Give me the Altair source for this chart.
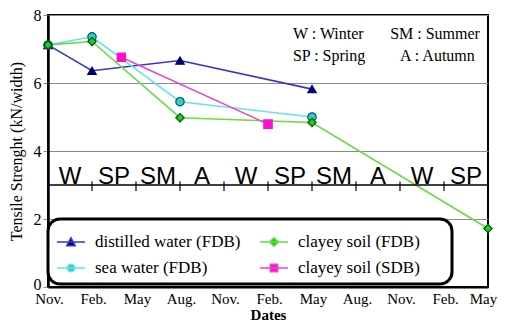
import altair as alt
import pandas as pd

# ---- data (months counted from the first November; 3 = Feb., 6 = May, ...) ----
series_names = ["distilled water (FDB)", "sea water (FDB)", "clayey soil (FDB)", "clayey soil (SDB)"]

distilled_x = [0, 3, 9, 18]
distilled_y = [7.12, 6.36, 6.66, 5.82]
sea_x = [0, 3, 9, 18]
sea_y = [7.12, 7.36, 5.45, 5.0]
clayey_fdb_x = [0, 3, 9, 18, 30]
clayey_fdb_y = [7.12, 7.22, 4.98, 4.84, 1.72]
clayey_sdb_x = [5, 15]
clayey_sdb_y = [6.76, 4.79]

x_tick_values = [0, 3, 6, 9, 12, 15, 18, 21, 24, 27, 30]
x_tick_labels = ["Nov.", "Feb.", "May", "Aug.", "Nov.", "Feb.", "May", "Aug.", "Nov.", "Feb.", "May"]
y_tick_values = [0, 2, 4, 6, 8]

season_labels = ["W", "SP", "SM", "A", "W", "SP", "SM", "A", "W", "SP"]
season_band_level = 3

key_texts_left = ["W : Winter", "SP : Spring"]
key_texts_right = ["SM : Summer", "A : Autumn"]
key_levels = [7.45, 6.8]

# ---- tables ----
rows = []
for name, xs, ys in [
    (series_names[0], distilled_x, distilled_y),
    (series_names[1], sea_x, sea_y),
    (series_names[2], clayey_fdb_x, clayey_fdb_y),
    (series_names[3], clayey_sdb_x, clayey_sdb_y),
]:
    for m, v in zip(xs, ys):
        rows.append({"series": name, "m": m, "v": v})
df = pd.DataFrame(rows)

season_df = pd.DataFrame({
    "label": season_labels,
    "m": [x_tick_values[i] + 1.5 for i in range(len(season_labels))],
    "v": [season_band_level] * len(season_labels),
})
tick_df = pd.DataFrame({
    "m": x_tick_values[1:-1],
    "v": [season_band_level + 0.1] * (len(x_tick_values) - 2),
    "v2": [season_band_level - 0.18] * (len(x_tick_values) - 2),
})
band_df = pd.DataFrame({"v": [season_band_level]})
key_left_df = pd.DataFrame({"t": key_texts_left, "m": [16.7] * 2, "v": key_levels})
key_right_df = pd.DataFrame({"t": key_texts_right, "m": [29.45, 29.1], "v": key_levels})

# ---- styling ----
line_colors = ["#3535cc", "#66e4e4", "#66dd44", "#ee44cc"]
fill_colors = ["#000090", "#33cccc", "#22cc22", "#ff11cc"]
outline_colors = ["#000060", "#005c5c", "#005a00", "#ff11cc"]
shapes = ["triangle-up", "circle", "diamond", "square"]
legend_paths = [
    "M-1,0L1,0M-0.3,0.26L0,-0.3L0.3,0.26Z",
    "M-1,0L1,0M-0.27,0A0.27,0.27 0 1,0 0.27,0A0.27,0.27 0 1,0 -0.27,0Z",
    "M-1,0L1,0M-0.32,0L0,-0.3L0.32,0L0,0.3Z",
    "M-1,0L1,0M-0.26,-0.26L0.26,-0.26L0.26,0.26L-0.26,0.26Z",
]

SERIF = "Liberation Serif"
SANS = "Liberation Sans"

x_scale = alt.Scale(domain=[0, 30], nice=False, zero=False)
y_scale = alt.Scale(domain=[0, 8], nice=False)

label_expr = "[" + ",".join("'" + s + "'" for s in x_tick_labels) + "][round(datum.value/3)]"

x_axis = alt.Axis(values=x_tick_values, labelExpr=label_expr, grid=False, ticks=False,
                  labelFlush=False,
                  labelOffset={"condition": {"test": "datum.value >= 30", "value": -5}, "value": 1},
                  title="Dates", titleFont=SERIF, titleFontSize=15, titleFontWeight="bold",
                  titleColor="black",
                  labelFont=SERIF, labelFontSize=15, labelColor="black", labelPadding=4,
                  titlePadding=1, domainColor="black", domainWidth=2)
y_axis = alt.Axis(values=y_tick_values, grid=True, gridColor="#8a8a8a", gridWidth=1.2,
                  ticks=True, tickSize=5, tickColor="#8a8a8a", labelFlush=False,
                  labelOffset={"condition": {"test": "datum.value <= 0", "value": -3}, "value": 0},
                  title="Tensile Strenght (kN/width)", titleFont=SERIF, titleFontSize=16,
                  titleFontWeight="normal", titleColor="black", titlePadding=9,
                  labelFont=SERIF, labelFontSize=16, labelColor="black", labelPadding=2,
                  domainColor="black", domainWidth=2.5)


def X():
    return alt.X("m:Q", scale=x_scale, axis=x_axis)


def Y():
    return alt.Y("v:Q", scale=y_scale, axis=y_axis)


base = alt.Chart(df)

lines = base.mark_line(strokeWidth=1.6).encode(
    x=X(), y=Y(),
    color=alt.Color("series:N", scale=alt.Scale(domain=series_names, range=line_colors), legend=None),
)

points = base.mark_point(filled=True, size=70, strokeWidth=1.2, opacity=1).encode(
    x=X(), y=Y(),
    color=alt.Color("series:N", scale=alt.Scale(domain=series_names, range=fill_colors), legend=None),
    stroke=alt.Stroke("series:N", scale=alt.Scale(domain=series_names, range=outline_colors), legend=None),
    shape=alt.Shape("series:N", scale=alt.Scale(domain=series_names, range=shapes), legend=None),
)

leg = alt.Legend(title="\u00a0", titleOrient="right", titlePadding=24, titleFontSize=8,
                 orient="none", legendX=0, legendY=204, columns=2,
                 symbolSize=784, symbolStrokeWidth=1.5, symbolOpacity=1,
                 labelFont=SERIF, labelFontSize=17, labelColor="black", labelOffset=9,
                 labelLimit=300, padding=8, columnPadding=16, rowPadding=3, gridAlign="all",
                 fillColor="white", strokeColor="black", cornerRadius=12)

legend_layer = base.mark_point(filled=True, opacity=0).encode(
    x=X(), y=Y(),
    color=alt.Color("series:N", scale=alt.Scale(domain=series_names, range=fill_colors), legend=leg),
    stroke=alt.Stroke("series:N", scale=alt.Scale(domain=series_names, range=line_colors), legend=leg),
    shape=alt.Shape("series:N", scale=alt.Scale(domain=series_names, range=legend_paths), legend=leg),
)

band = alt.Chart(band_df).mark_rule(color="black", strokeWidth=1.5).encode(y=Y())
band_ticks = alt.Chart(tick_df).mark_rule(color="black", strokeWidth=1.2).encode(
    x=X(), y=Y(), y2="v2:Q",
)
seasons = alt.Chart(season_df).mark_text(font=SANS, fontSize=24, baseline="alphabetic",
                                         align="center", dy=-1, color="black").encode(
    x=X(), y=Y(), text="label:N",
)
key_left = alt.Chart(key_left_df).mark_text(font=SERIF, fontSize=16, align="left",
                                            baseline="middle", color="black").encode(
    x=X(), y=Y(), text="t:N",
)
key_right = alt.Chart(key_right_df).mark_text(font=SERIF, fontSize=16, align="right",
                                              baseline="middle", color="black").encode(
    x=X(), y=Y(), text="t:N",
)

chart = alt.layer(lines, band, band_ticks, seasons, key_left, key_right, points, legend_layer).resolve_scale(
    color="independent", stroke="independent", shape="independent"
).properties(
    width=440, height=272,
    padding={"left": 40, "top": 7, "right": 11, "bottom": 36},
    autosize=alt.AutoSizeParams(type="none"),
    background="white",
).configure(
    font=SERIF
).configure_view(
    stroke="black", strokeWidth=2
).configure_axis(
    labelFont=SERIF, titleFont=SERIF
).configure_legend(
    strokeWidth=3, labelFont=SERIF, labelFontSize=17
)

chart.save("out.html", embed_options={"renderer": "svg", "actions": False})
